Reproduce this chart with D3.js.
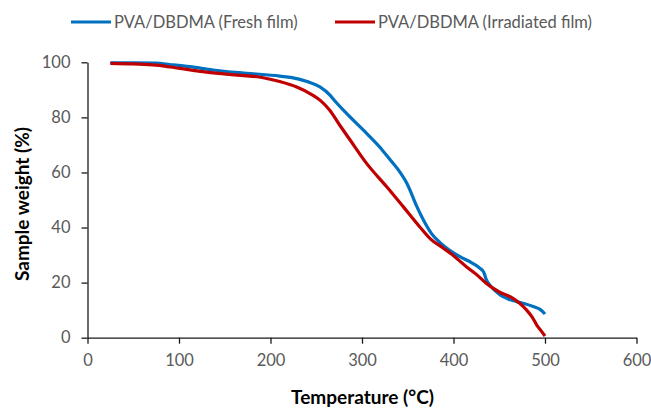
<!DOCTYPE html>
<html>
<head>
<meta charset="utf-8">
<script src="https://cdn.jsdelivr.net/npm/d3@7"></script>
<style>
  body { margin: 0; background: #fff; }
  svg { display: block; }
</style>
</head>
<body>
<div id="chart"></div>
<script>
// Temperature (°C) and sample weight (%)
const freshTemp = [25, 50, 75, 90, 112, 137, 174, 210, 230, 240, 254, 265, 269, 285, 305, 320, 331, 340, 349, 360, 368, 376, 385, 395, 407, 420, 429, 433, 436, 440, 451, 460, 469, 478, 487, 495, 500];
const freshWeight = [99.8, 99.8, 99.7, 99.2, 98.4, 97.2, 96.0, 95.0, 94.0, 93.0, 91.1, 88.1, 86.5, 80.8, 74.2, 69.0, 64.5, 60.8, 56.1, 47.6, 42.2, 37.8, 34.6, 31.9, 29.4, 27.2, 25.2, 23.8, 21.0, 19.0, 15.5, 14.0, 13.1, 12.3, 11.3, 10.2, 8.6];

const irrTemp = [25, 50, 75, 101, 126, 155, 192, 210, 228, 246, 255, 265, 275, 287, 305, 327, 345, 363, 375, 389, 400, 414, 425, 436, 450, 465, 472, 480, 486, 491, 496, 500];
const irrWeight = [99.6, 99.4, 99.0, 97.8, 96.6, 95.6, 94.4, 93.0, 91.1, 88.1, 86.0, 82.5, 77.5, 71.8, 63.3, 54.8, 47.6, 40.3, 35.8, 32.5, 29.8, 25.8, 23.0, 19.7, 16.6, 14.3, 12.6, 10.0, 7.5, 4.6, 2.4, 0.6];

const xTicks = [0, 100, 200, 300, 400, 500, 600];
const yTicks = [0, 20, 40, 60, 80, 100];

const seriesNames = ["PVA/DBDMA (Fresh film)", "PVA/DBDMA (Irradiated film)"];
const seriesColors = ["#0070C0", "#C00000"];

const width = 651, height = 408;
const margin = { top: 62.3, right: 14.5, bottom: 70.3, left: 87.5 };
const font = "Lato, 'Open Sans', sans-serif";

const svg = d3.select("#chart").append("svg")
    .attr("width", width)
    .attr("height", height);

const x = d3.scaleLinear().domain([0, 600]).range([margin.left, width - margin.right]);
const y = d3.scaleLinear().domain([0, 100]).range([height - margin.bottom, margin.top]);

// axes
const xAxis = svg.append("g")
    .attr("transform", `translate(0,${y(0)})`)
    .call(d3.axisBottom(x).tickValues(xTicks).tickSize(6).tickPadding(11).tickSizeOuter(0));

const yAxis = svg.append("g")
    .attr("transform", `translate(${x(0)},0)`)
    .call(d3.axisLeft(y).tickValues(yTicks).tickSize(6).tickPadding(11).tickSizeOuter(0));

[xAxis, yAxis].forEach(g => {
    g.select(".domain").attr("stroke", "#1a1a1a").attr("stroke-width", 1.3);
    g.selectAll(".tick line").attr("stroke", "#1a1a1a").attr("stroke-width", 1.3);
    g.selectAll(".tick text")
        .attr("fill", "#595959")
        .style("font-family", font)
        .style("font-size", "16.5px");
});

// data lines
const series = [
    freshTemp.map((t, i) => [t, freshWeight[i]]),
    irrTemp.map((t, i) => [t, irrWeight[i]])
];

const line = d3.line()
    .x(d => x(d[0]))
    .y(d => y(d[1]))
    .curve(d3.curveMonotoneX);

[0, 1].forEach(i => {
    svg.append("path")
        .datum(series[i])
        .attr("fill", "none")
        .attr("stroke", seriesColors[i])
        .attr("stroke-width", 3.2)
        .attr("stroke-linejoin", "round")
        .attr("d", line);
});

// axis titles
svg.append("text")
    .attr("x", 362.5)
    .attr("y", 397)
    .attr("dy", "0.35em")
    .attr("text-anchor", "middle")
    .style("font-family", font)
    .style("font-size", "19px")
    .style("font-weight", "bold")
    .text("Temperature (°C)");

svg.append("text")
    .attr("transform", "translate(22,204) rotate(-90)")
    .attr("dy", "0.35em")
    .attr("text-anchor", "middle")
    .style("font-family", font)
    .style("font-size", "19px")
    .style("font-weight", "bold")
    .text("Sample weight (%)");

// legend
const legendX = [71, 335];
seriesNames.forEach((name, i) => {
    const g = svg.append("g").attr("transform", `translate(${legendX[i]},22)`);
    g.append("line")
        .attr("x1", 0).attr("x2", 40)
        .attr("stroke", seriesColors[i])
        .attr("stroke-width", 3.2);
    g.append("text")
        .attr("x", 43)
        .attr("dy", "0.35em")
        .attr("fill", "#595959")
        .style("font-family", font)
        .style("font-size", "16.5px")
        .text(name);
});
</script>
</body>
</html>
